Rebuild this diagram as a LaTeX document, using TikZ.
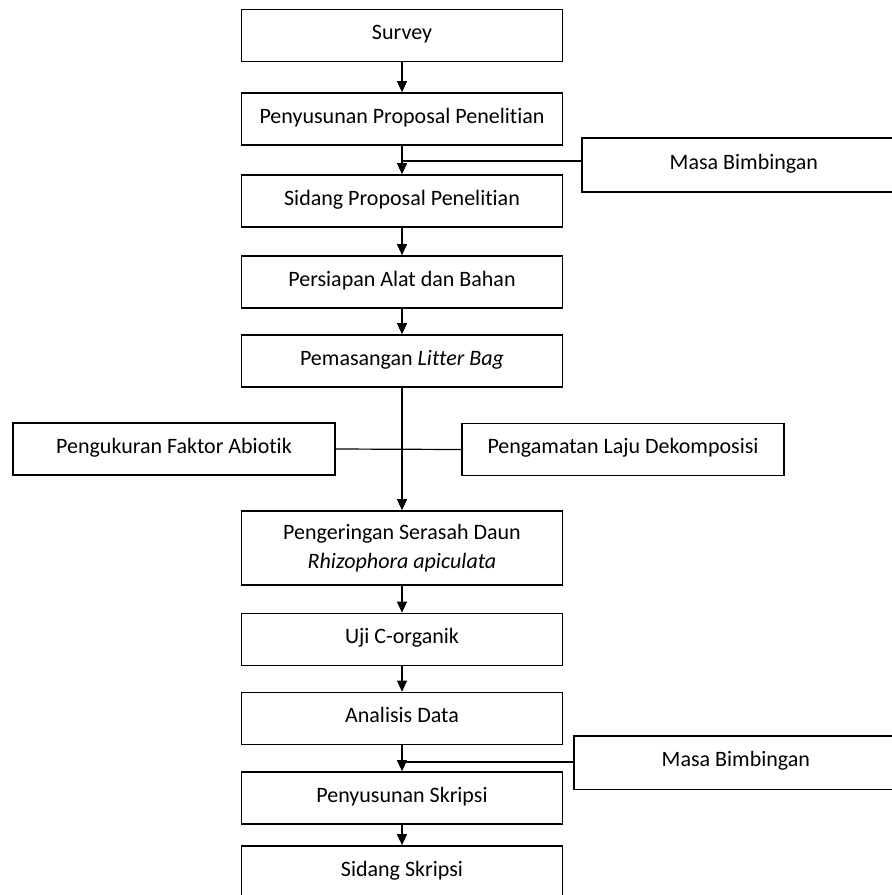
\documentclass[tikz,border=0pt]{standalone}
\usepackage{fontspec}
\setmainfont[Ligatures=NoCommon]{Carlito}
\usetikzlibrary{arrows.meta}
\tikzset{
  box/.style={draw=black, line width=1.7pt, fill=white, minimum width=321pt, minimum height=52pt, inner sep=0pt,
    font=\fontsize{22}{29}\selectfont, text height=14pt, text depth=6pt},
  twobox/.style={draw=black, line width=1.7pt, fill=white, minimum width=321pt, minimum height=74pt, inner sep=0pt,
    font=\fontsize{22}{29}\selectfont, align=center},
  sidebox/.style={box, draw=none, minimum width=330pt, anchor=west},
  openedge/.style={line width=1.7pt, line join=miter},
  flow/.style={line width=1.1pt, -{Triangle[length=11pt,width=10pt]}},
  link/.style={line width=1.2pt}
}
\begin{document}
\begin{tikzpicture}[x=1pt,y=-1pt]
\useasboundingbox (0,0) rectangle (892,895);
\clip (0,0) rectangle (892,895);
% main column
\node[box] (b1) at (402,35.5) {Survey};
\node[box] (b2) at (402,119) {Penyusunan Proposal Penelitian};
\node[box] (b3) at (402,201) {Sidang Proposal Penelitian};
\node[box] (b4) at (402,282) {Persiapan Alat dan Bahan};
\node[box] (b5) at (402,361) {Pemasangan \textit{Litter Bag}};
\node[twobox] (b6) at (402,548) {Pengeringan Serasah Daun\\\textit{Rhizophora apiculata}};
\node[box] (b7) at (402,639.5) {Uji C-organik};
\node[box] (b8) at (402,718.5) {Analisis Data};
\node[box] (b9) at (402,798) {Penyusunan Skripsi};
\node[box] (b10) at (402,872) {Sidang Skripsi};
% side boxes (cut off by the right edge of the picture)
\node[sidebox] (m1) at (582,165) {\makebox[322pt]{Masa Bimbingan}\hspace*{8pt}};
\draw[openedge] (m1.north east) -- (m1.north west) -- (m1.south west) -- (m1.south east);
\node[box, minimum width=322pt] (pk) at (174,449) {Pengukuran Faktor Abiotik};
\node[box, minimum width=322pt] (pl) at (623,449.5) {Pengamatan Laju Dekomposisi};
\node[sidebox] (m2) at (574,762.5) {\makebox[322pt]{Masa Bimbingan}\hspace*{8pt}};
\draw[openedge] (m2.north east) -- (m2.north west) -- (m2.south west) -- (m2.south east);
% junctions
\coordinate (j1) at (402,161);
\coordinate (j2) at (402,762);
% connectors
\draw[flow] (b1) -- (b2);
\draw[flow] (b2) -- (b3);
\draw[flow] (b3) -- (b4);
\draw[flow] (b4) -- (b5);
\draw[flow] (b5) -- (b6);
\draw[flow] (b6) -- (b7);
\draw[flow] (b7) -- (b8);
\draw[flow] (b8) -- (b9);
\draw[flow] (b9) -- (b10);
\draw[link] (m1.west |- j1) -- (j1);
\draw[link] (m2.west |- j2) -- (j2);
\draw[link] (pk.east) -- (pl.west);
\end{tikzpicture}
\end{document}
